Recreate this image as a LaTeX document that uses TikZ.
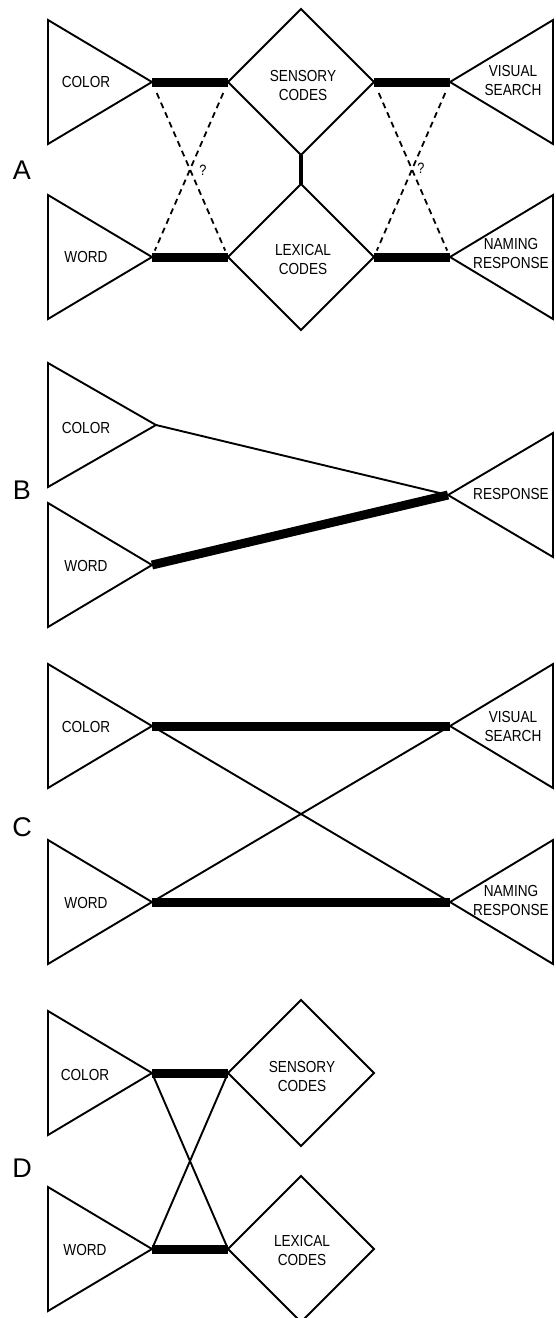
\documentclass[tikz,border=0pt]{standalone}
\usepackage{fontspec}
\setmainfont{Liberation Sans}[FakeStretch=0.85]
\newfontfamily\panelfont{Liberation Sans}
\usetikzlibrary{shapes.geometric}
\begin{document}
\begin{tikzpicture}[x=1pt,y=-1pt,
  outline/.style={draw=black, line width=1.9pt, line join=miter},
  link/.style={line width=1.9pt},
  strong/.style={line width=9pt},
  bridge/.style={line width=4.5pt},
  guess/.style={line width=1.8pt, dash pattern=on 6pt off 4.5pt, shorten <=12pt, shorten >=7pt},
  lbl/.style={font=\fontsize{16}{19}\selectfont, align=center, inner sep=0pt},
  qmark/.style={font=\fontsize{15}{15}\selectfont, inner sep=0pt},
  panel/.style={font=\panelfont\fontsize{27}{27}\selectfont, inner sep=0pt},
  codes/.style={diamond, draw=black, line width=1.9pt, minimum width=146pt,
    minimum height=146pt, inner sep=0pt, outer sep=0pt},
]
\useasboundingbox (0,0) rectangle (556,1318);

% ---------- A ----------
\node[panel] (labA) at (22,170) {A};
\coordinate (colA) at (152,82);
\coordinate (wrdA) at (152,257);
\coordinate (visA) at (450,82);
\coordinate (namA) at (450,257);
\draw[outline] (colA) -- (48,20) -- (48,144) -- cycle;
\draw[outline] (wrdA) -- (48,195) -- (48,319) -- cycle;
\draw[outline] (visA) -- (553,20) -- (553,144) -- cycle;
\draw[outline] (namA) -- (553,195) -- (553,319) -- cycle;
\node[codes] (senA) at (301,82) {};
\node[codes] (lexA) at (301,257) {};
\node[lbl] (tcolA) at (86,82) {COLOR};
\node[lbl] (twrdA) at (86,257) {WORD};
\node[lbl] (tsenA) at (303,85) {SENSORY\\CODES};
\node[lbl] (tlexA) at (303,259) {LEXICAL\\CODES};
\node[lbl] (tvisA) at (513,80) {VISUAL\\SEARCH};
\node[lbl] (tnamA) at (511,253) {NAMING\\RESPONSE};
\draw[strong] (colA) -- (senA.west);
\draw[strong] (wrdA) -- (lexA.west);
\draw[strong] (senA.east) -- (visA);
\draw[strong] (lexA.east) -- (namA);
\draw[bridge] (senA.south) -- (lexA.north);
\draw[guess] (colA) -- (lexA.west);
\draw[guess] (senA.west) -- (wrdA);
\draw[guess] (senA.east) -- (namA);
\draw[guess] (visA) -- (lexA.east);
\node[qmark] (qA1) at (203,170) {?};
\node[qmark] (qA2) at (421,168) {?};

% ---------- B ----------
\node[panel] (labB) at (22,490) {B};
\coordinate (colB) at (156,425);
\coordinate (wrdB) at (152,565);
\coordinate (rspB) at (448,495);
\draw[outline] (colB) -- (48,363) -- (48,487) -- cycle;
\draw[outline] (wrdB) -- (48,503) -- (48,627) -- cycle;
\draw[outline] (rspB) -- (553,433) -- (553,557) -- cycle;
\node[lbl] (tcolB) at (86,428) {COLOR};
\node[lbl] (twrdB) at (86,566) {WORD};
\node[lbl] (trspB) at (511,494) {RESPONSE};
\draw[link] (colB) -- (rspB);
\draw[strong] (wrdB) -- (rspB);

% ---------- C ----------
\node[panel] (labC) at (22,827) {C};
\coordinate (colC) at (152,726);
\coordinate (wrdC) at (152,902);
\coordinate (visC) at (450,726);
\coordinate (namC) at (450,902);
\draw[outline] (colC) -- (48,664) -- (48,788) -- cycle;
\draw[outline] (wrdC) -- (48,840) -- (48,964) -- cycle;
\draw[outline] (visC) -- (553,664) -- (553,788) -- cycle;
\draw[outline] (namC) -- (553,840) -- (553,964) -- cycle;
\node[lbl] (tcolC) at (86,727) {COLOR};
\node[lbl] (twrdC) at (86,903) {WORD};
\node[lbl] (tvisC) at (513,726) {VISUAL\\SEARCH};
\node[lbl] (tnamC) at (511,900) {NAMING\\RESPONSE};
\draw[strong] (colC) -- (visC);
\draw[strong] (wrdC) -- (namC);
\draw[link] (colC) -- (namC);
\draw[link] (wrdC) -- (visC);

% ---------- D ----------
\node[panel] (labD) at (22,1168) {D};
\coordinate (colD) at (152,1073);
\coordinate (wrdD) at (152,1249);
\draw[outline] (colD) -- (48,1011) -- (48,1135) -- cycle;
\draw[outline] (wrdD) -- (48,1187) -- (48,1311) -- cycle;
\node[codes] (senD) at (301,1073) {};
\node[codes] (lexD) at (301,1249) {};
\node[lbl] (tcolD) at (85,1075) {COLOR};
\node[lbl] (twrdD) at (85,1250) {WORD};
\node[lbl] (tsenD) at (302,1076) {SENSORY\\CODES};
\node[lbl] (tlexD) at (302,1250) {LEXICAL\\CODES};
\draw[strong] (colD) -- (senD.west);
\draw[strong] (wrdD) -- (lexD.west);
\draw[link] (colD) -- (lexD.west);
\draw[link] (wrdD) -- (senD.west);
\end{tikzpicture}
\end{document}
